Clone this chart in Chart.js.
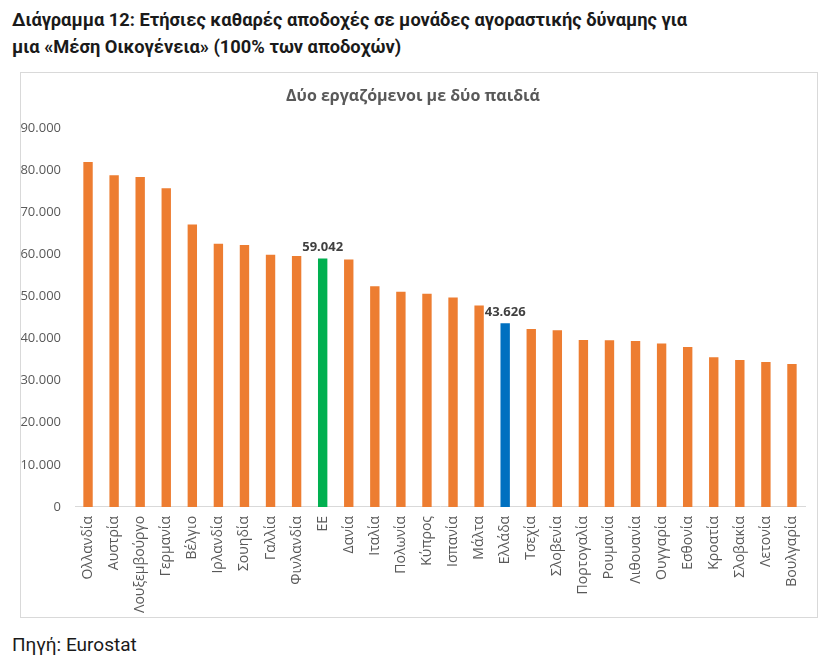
<!DOCTYPE html>
<html>
<head>
  <meta charset="utf-8">
  <title>Διάγραμμα 12</title>
  <script src="https://cdn.jsdelivr.net/npm/chart.js"></script>
  <style>
    body { margin: 0; background: #fff; font-family: Roboto, sans-serif; }
    #heading {
      position: absolute; left: 12px; top: 6px;
      font-size: 18.3px; font-weight: bold; line-height: 27px; color: #1a1a1a;
    }
    #box {
      position: absolute; left: 20px; top: 72px; width: 796px; height: 544px;
      border: 1px solid #d9d9d9;
    }
    #source {
      position: absolute; left: 12px; top: 633px; font-size: 19px; color: #1a1a1a;
    }
  </style>
</head>
<body>
  <div id="heading">Διάγραμμα 12: Ετήσιες καθαρές αποδοχές σε μονάδες αγοραστικής δύναμης για<br>μια «Μέση Οικογένεια» (100% των αποδοχών)</div>
  <div id="box"><canvas id="chart"></canvas></div>
  <div id="source">Πηγή: Eurostat</div>

  <script>
    var countries = ['Ολλανδία', 'Αυστρία', 'Λουξεμβούργο', 'Γερμανία', 'Βέλγιο', 'Ιρλανδία',
      'Σουηδία', 'Γαλλία', 'Φινλανδία', 'ΕΕ', 'Δανία', 'Ιταλία', 'Πολωνία', 'Κύπρος',
      'Ισπανία', 'Μάλτα', 'Ελλάδα', 'Τσεχία', 'Σλοβενία', 'Πορτογαλία', 'Ρουμανία',
      'Λιθουανία', 'Ουγγαρία', 'Εσθονία', 'Κροατία', 'Σλοβακία', 'Λετονία', 'Βουλγαρία'];

    var earnings = [81980, 78810, 78400, 75700, 67140, 62540,
      62220, 59950, 59600, 59042, 58810, 52460, 51110, 50630,
      49760, 47860, 43626, 42300, 41980, 39680, 39600,
      39440, 38810, 38020, 35560, 34920, 34440, 33970];

    var yTicks = [0, 10000, 20000, 30000, 40000, 50000, 60000, 70000, 80000, 90000];

    // bars that get a value label and their own colour
    var highlighted = { 'ΕΕ': '#00b050', 'Ελλάδα': '#0070c0' };

    function fmt(v) {
      return String(v).replace(/\B(?=(\d{3})+(?!\d))/g, '.');
    }

    var barColors = countries.map(function (c) {
      return highlighted[c] || '#ed7d31';
    });

    var valueLabels = {
      id: 'valueLabels',
      afterDatasetsDraw: function (chart) {
        var ctx = chart.ctx;
        var meta = chart.getDatasetMeta(0);
        ctx.save();
        ctx.font = 'bold 13px "Open Sans"';
        ctx.fillStyle = '#404040';
        ctx.textAlign = 'center';
        ctx.textBaseline = 'bottom';
        countries.forEach(function (c, i) {
          if (!highlighted[c]) return;
          var bar = meta.data[i];
          ctx.fillText(fmt(earnings[i]), bar.x, bar.y - 5);
        });
        ctx.restore();
      }
    };

    var ctx = document.getElementById('chart').getContext('2d');
    var myChart = new Chart(ctx, {
      type: 'bar',
      data: {
        labels: countries,
        datasets: [{
          data: earnings,
          backgroundColor: barColors,
          barPercentage: 0.36,
          categoryPercentage: 1
        }]
      },
      options: {
        responsive: true,
        maintainAspectRatio: false,
        animation: false,
        layout: { padding: { left: 0, right: 12, top: 0, bottom: 3 } },
        plugins: {
          legend: { display: false },
          tooltip: { enabled: false },
          title: {
            display: true,
            text: 'Δύο εργαζόμενοι με δύο παιδιά',
            color: '#595959',
            font: { family: 'Open Sans', size: 16, weight: 'bold' },
            padding: { top: 14, bottom: 22 }
          }
        },
        scales: {
          x: {
            grid: { display: false },
            border: { display: true, color: '#d9d9d9', width: 1 },
            ticks: {
              color: '#595959',
              font: { family: 'Open Sans', size: 14 },
              minRotation: 90,
              maxRotation: 90,
              autoSkip: false,
              padding: 1
            }
          },
          y: {
            min: 0,
            max: 90000,
            grid: { display: false, drawTicks: false },
            border: { display: false },
            afterBuildTicks: function (scale) {
              scale.ticks = yTicks.map(function (v) { return { value: v }; });
            },
            afterFit: function (scale) { scale.width = 54; },
            ticks: {
              color: '#595959',
              font: { family: 'Open Sans', size: 13 },
              padding: 14,
              callback: function (v) { return fmt(v); }
            }
          }
        }
      },
      plugins: [valueLabels]
    });
  </script>
</body>
</html>
